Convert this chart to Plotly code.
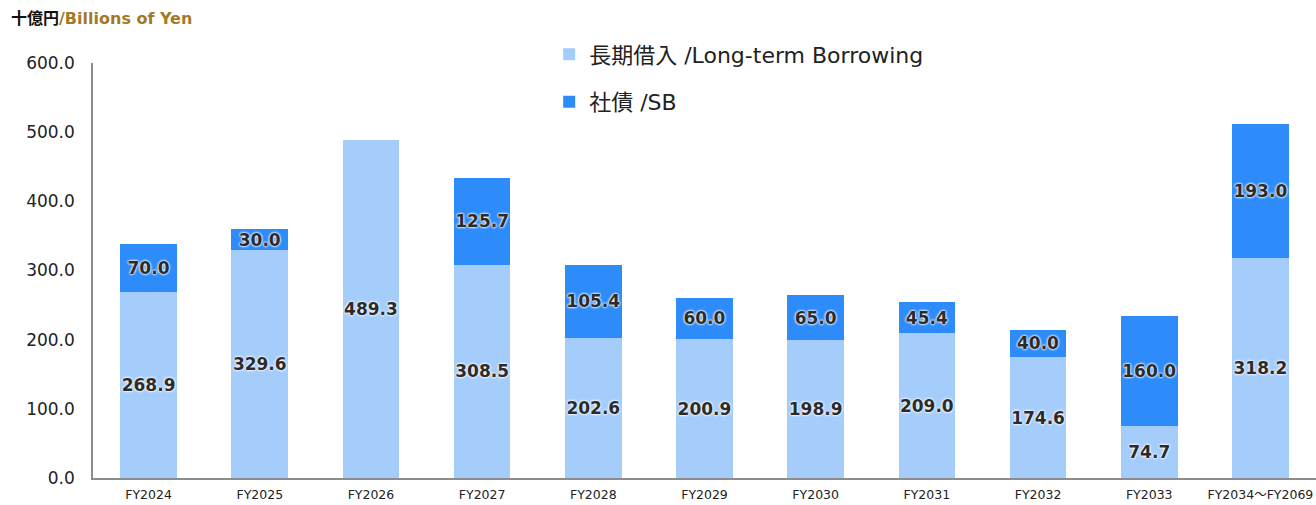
import plotly.graph_objects as go

# Redemption schedule, billions of yen
years = ["FY2024", "FY2025", "FY2026", "FY2027", "FY2028", "FY2029",
         "FY2030", "FY2031", "FY2032", "FY2033", "FY2034～FY2069"]
long_term = [268.9, 329.6, 489.3, 308.5, 202.6, 200.9, 198.9, 209.0, 174.6, 74.7, 318.2]
bonds = [70.0, 30.0, 0.0, 125.7, 105.4, 60.0, 65.0, 45.4, 40.0, 160.0, 193.0]

LIGHT = "#a5cdfc"
DARK = "#2d8cfa"
label_font = dict(family="DejaVu Sans", size=17, color="#2b2b2b", weight="bold",
                  shadow="0px 0px 2px #ffffff, 0px 0px 2px #ffffff, 0px 0px 3px #ffffff")


def labels(vals):
    return ["%.1f" % v if v else "" for v in vals]


fig = go.Figure()
fig.add_trace(go.Bar(
    x=years, y=long_term, name="長期借入 /Long-term Borrowing",
    marker=dict(color=LIGHT, line=dict(width=0)),
    text=labels(long_term), textposition="inside", insidetextanchor="middle",
    textangle=0, constraintext="none", textfont=label_font, legendgroup="a",
    hoverinfo="x+y",
))
fig.add_trace(go.Bar(
    x=years, y=bonds, name="社債 /SB",
    marker=dict(color=DARK, line=dict(width=0)),
    text=labels(bonds), textposition="inside", insidetextanchor="middle",
    textangle=0, constraintext="none", textfont=label_font, legendgroup="b",
    hoverinfo="x+y",
))

# plot area sits lower in the page; top of paper holds title + legend
fig.add_annotation(
    text="<b>十億円</b><b><span style='color:#a27a2a'>/Billions of Yen</span></b>",
    xref="paper", yref="paper", x=0, y=1, xshift=-84, yshift=-18,
    xanchor="left", yanchor="middle", showarrow=False,
    font=dict(family="DejaVu Sans, Noto Sans CJK JP", size=16, color="#111111"),
)

fig.update_layout(
    barmode="stack",
    bargap=0.49,
    width=1316, height=505,
    margin=dict(l=93, r=0, t=0, b=27, autoexpand=False),
    paper_bgcolor="white", plot_bgcolor="white",
    font=dict(family="DejaVu Sans, Noto Sans CJK JP", color="#222222"),
    legend=dict(x=0.373, y=0.93, xanchor="left", yanchor="top",
                font=dict(size=22, color="#222222"),
                traceorder="grouped", tracegroupgap=16,
                bgcolor="rgba(0,0,0,0)", itemwidth=30),
    xaxis=dict(showline=True, linecolor="#8c8c8c", linewidth=1.5,
               ticks="", tickfont=dict(size=12.5, color="#222222"),
               ticklabelstandoff=4,
               showgrid=False, automargin=False),
    yaxis=dict(range=[0, 600], dtick=100, tickformat=".1f",
               domain=[0, 1 - 63 / 478],
               showline=True, linecolor="#8c8c8c", linewidth=1.5,
               showgrid=False, zeroline=False, ticks="", automargin=False,
               tickfont=dict(size=17, color="#222222"), ticklabelstandoff=13),
)

fig.write_html("out.html", config={"displayModeBar": False},
               post_script="document.body.style.margin = '0px';")
